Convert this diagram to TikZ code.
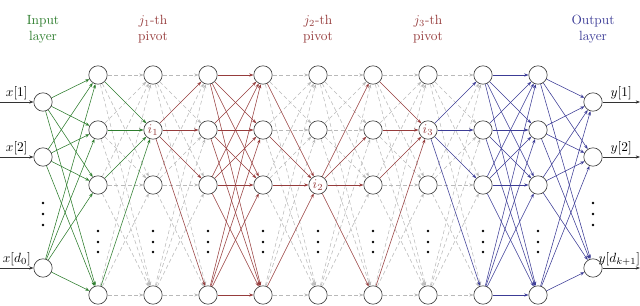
\documentclass[tikz,border=0pt]{standalone}
\usepackage{amsmath,amssymb}
\usepackage{xcolor}
\usepackage{tikz}
\usetikzlibrary{arrows.meta}
\definecolor{inputgreen}{RGB}{45,125,45}
\definecolor{pivotred}{RGB}{150,60,60}
\definecolor{outputblue}{RGB}{60,60,150}

\begin{document}
\begin{tikzpicture}[x=0.75pt, y=-0.75pt,
    neuron/.style={circle, draw=black!75, fill=white, line width=0.5pt, minimum size=13.8pt, inner sep=0pt},
    pivotlabel/.style={text=pivotred, inner sep=0pt},
    title/.style={align=center},
    arrow/.style={-{Stealth[length=3.2pt, width=2.4pt]}, line width=0.42pt},
    ioarrow/.style={arrow, draw=black!80},
    greenarrow/.style={arrow, draw=inputgreen},
    redarrow/.style={arrow, draw=pivotred},
    bluearrow/.style={arrow, draw=outputblue},
    grayarrow/.style={arrow, draw=gray!55, dash pattern=on 3pt off 2pt}
]
    \useasboundingbox (0,0) rectangle (640,306);

    % Titles above the columns
    \node[title, text=inputgreen] (title-in) at (43,29) {Input\\layer};
    \node[title, text=pivotred] (title-j1) at (153,29) {$j_1$-th\\pivot};
    \node[title, text=pivotred] (title-j2) at (318,29) {$j_2$-th\\pivot};
    \node[title, text=pivotred] (title-j3) at (428,29) {$j_3$-th\\pivot};
    \node[title, text=outputblue] (title-out) at (593,29) {Output\\layer};

    % Input and output layers
    \foreach \r/\y in {1/102, 2/157, 3/268} {
        \node[neuron] (in-\r) at (43,\y) {};
        \node[neuron] (out-\r) at (593,\y) {};
    }

    % Hidden layers
    \foreach \c in {1,...,9} {
        \foreach \r/\y in {1/75, 2/130, 3/185, 4/295}
            \node[neuron] (h\c-\r) at ({43+55*\c},\y) {};
    }

    % Pivot labels
    \node[pivotlabel] (piv1) at (h2-2) {$i_1$};
    \node[pivotlabel] (piv2) at (h5-3) {$i_2$};
    \node[pivotlabel] (piv3) at (h7-2) {$i_3$};

    % Vertical dots
    \foreach \x in {43, 593}
        \foreach \y in {203, 214, 225}
            \fill (\x,\y) circle (1.4);
    \foreach \c in {1,...,9}
        \foreach \y in {231, 242, 252}
            \fill ({43+55*\c},\y) circle (1.4);

    % Inputs and outputs
    \coordinate (xin-1) at (0,102);
    \coordinate (xin-2) at (0,157);
    \coordinate (xin-3) at (0,268);
    \coordinate (yout-1) at (640,102);
    \coordinate (yout-2) at (640,157);
    \coordinate (yout-3) at (640,268);
    \draw[ioarrow] (xin-1) -- node[above, inner sep=1.5pt] {$x[1]$} (in-1);
    \draw[ioarrow] (xin-2) -- node[above, inner sep=1.5pt] {$x[2]$} (in-2);
    \draw[ioarrow] (xin-3) -- node[above, inner sep=1.5pt] {$x[d_0]$} (in-3);
    \draw[ioarrow] (out-1) -- node[above, inner sep=1.5pt] {$y[1]$} (yout-1);
    \draw[ioarrow] (out-2) -- node[above, inner sep=1.5pt] {$y[2]$} (yout-2);
    \draw[ioarrow] (out-3) -- node[above, inner sep=1.5pt, pos=0.45] {$y[d_{k+1}]$} (yout-3);

    % Inactive connections (dashed)
    \foreach \a in {1,...,4} \foreach \b in {1,3,4} \draw[grayarrow] (h1-\a) -- (h2-\b);
    \foreach \a in {1,3,4} \foreach \b in {1,...,4} \draw[grayarrow] (h2-\a) -- (h3-\b);
    \foreach \a in {1,...,4} \foreach \b in {1,2,4} \draw[grayarrow] (h4-\a) -- (h5-\b);
    \foreach \a in {1,2,4} \foreach \b in {1,...,4} \draw[grayarrow] (h5-\a) -- (h6-\b);
    \foreach \a in {1,...,4} \foreach \b in {1,3,4} \draw[grayarrow] (h6-\a) -- (h7-\b);
    \foreach \a in {1,3,4} \foreach \b in {1,...,4} \draw[grayarrow] (h7-\a) -- (h8-\b);

    % Input layer to first pivot
    \foreach \a in {1,2,3} \foreach \b in {1,...,4} \draw[greenarrow] (in-\a) -- (h1-\b);
    \foreach \a in {1,...,4} \draw[greenarrow] (h1-\a) -- (h2-2);

    % Between the pivots
    \foreach \b in {1,...,4} \draw[redarrow] (h2-2) -- (h3-\b);
    \foreach \a in {1,...,4} \foreach \b in {1,...,4} \draw[redarrow] (h3-\a) -- (h4-\b);
    \foreach \a in {1,...,4} \draw[redarrow] (h4-\a) -- (h5-3);
    \foreach \b in {1,...,4} \draw[redarrow] (h5-3) -- (h6-\b);
    \foreach \a in {1,...,4} \draw[redarrow] (h6-\a) -- (h7-2);

    % Last pivot to output layer
    \foreach \b in {1,...,4} \draw[bluearrow] (h7-2) -- (h8-\b);
    \foreach \a in {1,...,4} \foreach \b in {1,...,4} \draw[bluearrow] (h8-\a) -- (h9-\b);
    \foreach \a in {1,...,4} \foreach \b in {1,2,3} \draw[bluearrow] (h9-\a) -- (out-\b);

\end{tikzpicture}
\end{document}
